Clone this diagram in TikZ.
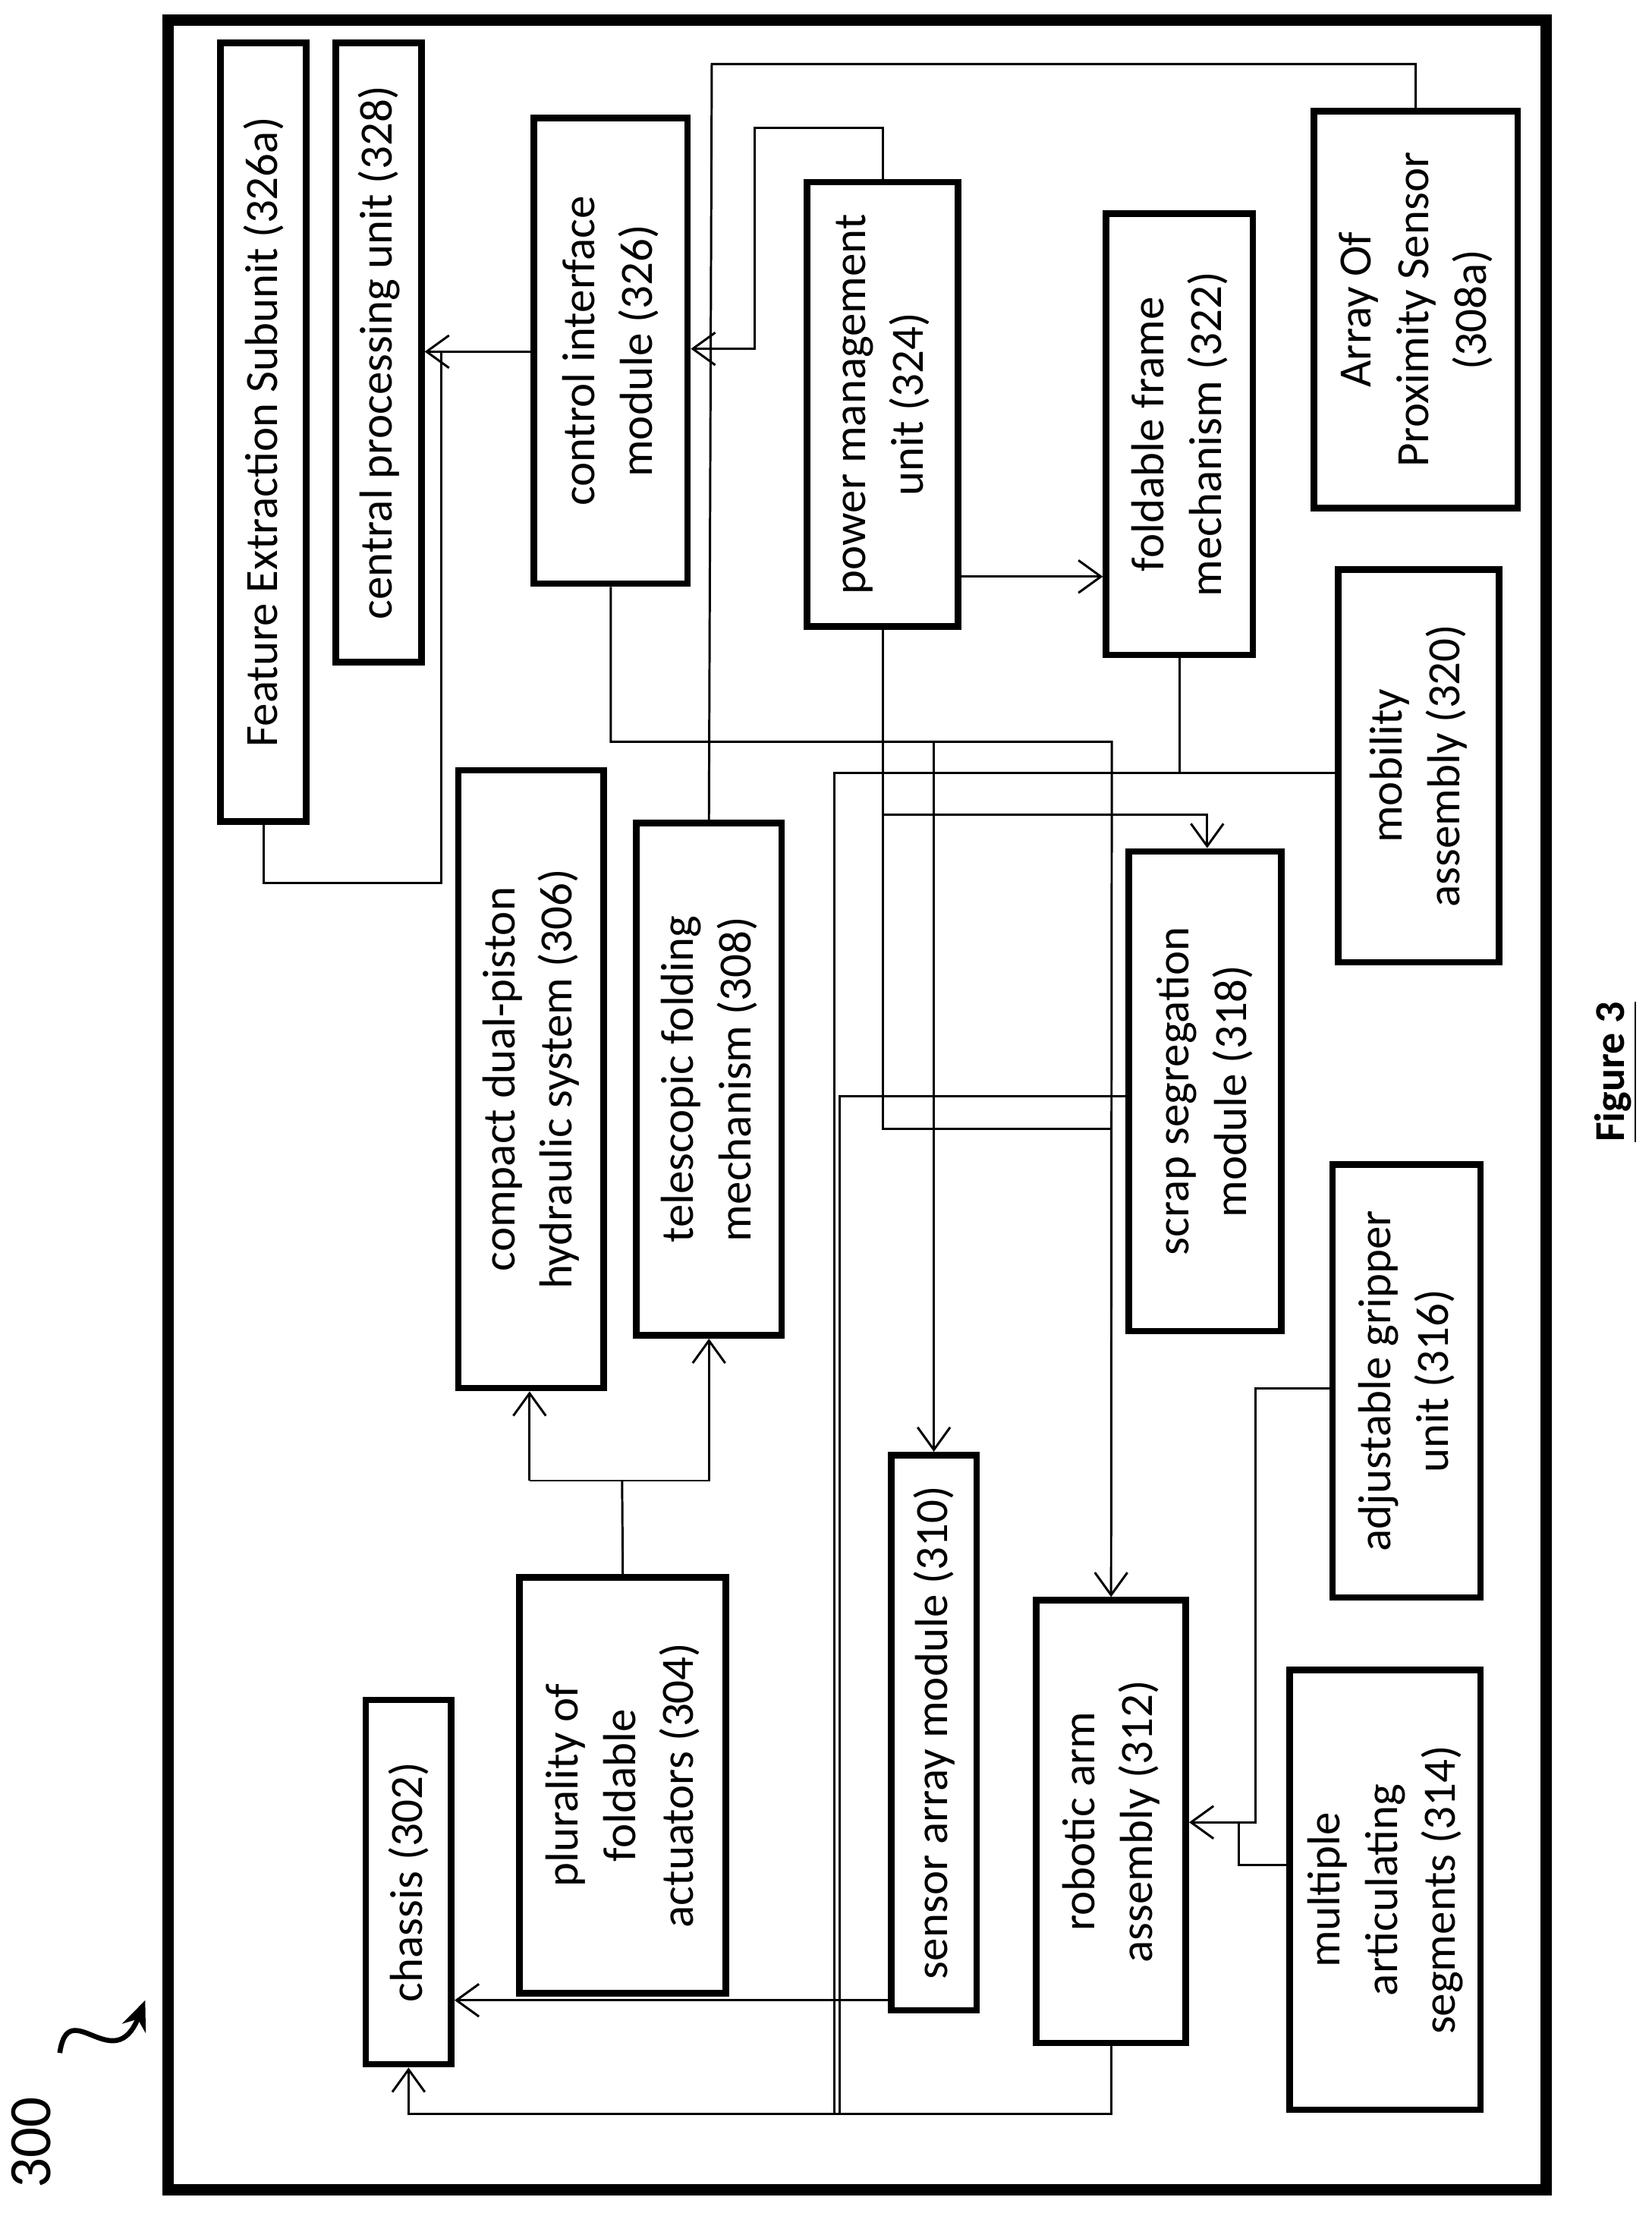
\documentclass[tikz,border=0pt]{standalone}
\usepackage{fontspec}
\setmainfont{Carlito}
\usetikzlibrary{arrows.meta,fit}
\begin{document}
\begin{tikzpicture}[x=0.02cm,y=-0.02cm,
  box/.style={draw,line width=2.6pt,inner sep=0pt},
  txt/.style={rotate=90,align=center,font=\fontsize{18.5}{23}\selectfont},
  ln/.style={line width=0.9pt},
  arr/.style={ln,-{Straight Barb[length=9pt,width=13pt,line width=0.9pt]}}]
\useasboundingbox (0,0) rectangle (1160,1572);
\draw[line width=4.5pt] (118,14) rectangle (1086,1538);
\newcommand\bx[6]{\node[box,fit={(#2,#3)(#4,#5)}] (#1) {};
  \node[txt] (#1-t) at (#1.center) {#6};}
\bx{fe}{155}{30}{215}{577}{Feature Extraction Subunit (326a)}
\bx{cpu}{236}{30}{296}{465}{central processing unit (328)}
\bx{ci}{375}{83}{483}{410}{control interface\\module (326)}
\bx{pm}{567}{128}{673}{440}{power management\\unit (324)}
\bx{ff}{777}{150}{880}{460}{foldable frame\\mechanism (322)}
\bx{ap}{923}{78}{1066}{357}{Array Of\\Proximity Sensor\\(308a)}
\bx{ma}{940}{400}{1053}{676}{mobility\\assembly (320)}
\bx{hy}{322}{541}{424}{975}{compact dual-piston\\hydraulic system (306)}
\bx{tf}{447}{578}{549}{938}{telescopic folding\\mechanism (308)}
\bx{ss}{793}{598}{900}{935}{scrap segregation\\module (318)}
\bx{ag}{936}{818}{1040}{1122}{adjustable gripper\\unit (316)}
\bx{ch}{257}{1194}{317}{1450}{chassis (302)}
\bx{pa}{365}{1108}{510}{1400}{plurality of\\foldable\\actuators (304)}
\bx{sa}{626}{1022}{686}{1412}{sensor array module (310)}
\bx{ra}{728}{1124}{833}{1435}{robotic arm\\assembly (312)}
\bx{as}{906}{1173}{1040}{1482}{multiple\\articulating\\segments (314)}
% connectors
\coordinate (j1) at (310,247);
\draw[arr] (ci.west|-j1) -- (cpu.east|-j1);
\draw[ln] (fe.south) |- (310,620) -- (j1);
\draw[arr] (pm.north) |- (530,90) |- (ci.east|-0,245);
\draw[ln] (ap.north) |- (500,45) -- (tf.north);
\draw[arr] (pm.east|-0,405) -- (ff.west|-0,405);
\coordinate (j2) at (656,521);
\draw[arr] (ci.south) |- (781,521) -- (ra.north);
\draw[arr] (j2) -- (sa.north-|j2);
\draw[ln] (pm.south) |- (781,793);
\draw[arr] (620,572) -| (ss.north-|848,0);
\draw[ln] (ff.south) |- (ma.west|-0,543);
\draw[ln] (828,543) -| (586,1485);
\draw[ln] (ss.west|-0,770) -| (590,1485);
\draw[arr] (ra.south) |- (287,1485) -- (ch.south-|287,0);
\draw[arr] (sa.west|-0,1405) -- (ch.east|-0,1405);
\coordinate (j3) at (437,1040);
\draw[ln] (pa.north) -- (j3);
\draw[arr] (372,1040) -- (hy.south-|372,0);
\draw[arr] (372,1040) -- (498,1040) -- (tf.south-|498,0);
\draw[arr] (ag.west|-0,975) -| (882,1280) -- (ra.east|-0,1280);
\draw[ln] (as.west|-0,1310) -| (870,1280);
% label
\node[rotate=90,font=\fontsize{24}{28}\selectfont] (lbl) at (22,1505) {300};
\coordinate (c1) at (42,1442);
\coordinate (c2) at (102,1405);
\draw[line width=2pt,-{Stealth[length=12pt,width=10pt]}] (c1) .. controls (48,1400) and (80,1460) .. (c2);
\node[rotate=90,font=\bfseries\fontsize{17}{20}\selectfont] (fig) at (1135,753) {\underline{Figure 3}};
\end{tikzpicture}
\end{document}
